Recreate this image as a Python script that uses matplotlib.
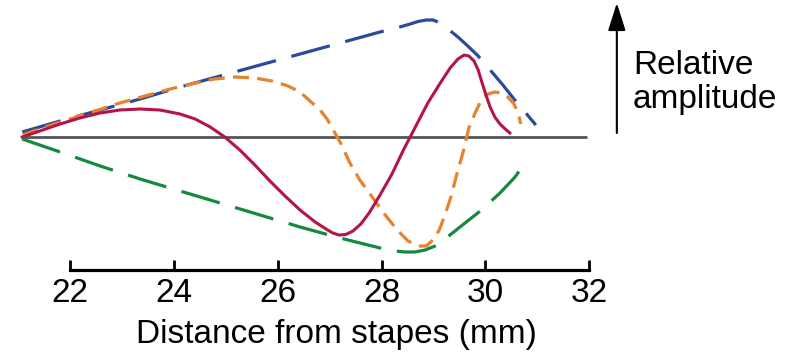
"""
Travelling wave along the basilar membrane: envelope and two instants of the wave
"""

import matplotlib.pyplot as plt

plt.rcParams['font.family'] = ['Liberation Sans', 'DejaVu Sans']

#%% DATA
# distance from stapes (mm) and relative amplitude

env_top_x = [21.08, 21.81, 22.58, 23.35, 24.12, 24.89, 25.66, 26.43, 27.20, 27.97,
             28.35, 28.55, 28.70, 28.86, 28.99, 29.13, 29.28, 29.47, 29.66, 29.86,
             30.09, 30.32, 30.55, 30.76, 30.97]
env_top_y = [0.05, 0.16, 0.27, 0.38, 0.50, 0.61, 0.72, 0.83, 0.94, 1.05,
             1.10, 1.13, 1.155, 1.17, 1.17, 1.14, 1.08, 1.00, 0.91, 0.81,
             0.67, 0.53, 0.38, 0.25, 0.12]

env_bot_x = [21.08, 21.81, 22.58, 23.35, 24.12, 24.89, 25.66, 26.43, 27.20, 27.97,
             28.26, 28.45, 28.64, 28.84, 29.03, 29.22, 29.51, 29.90, 30.28, 30.57,
             30.80]
env_bot_y = [-0.02, -0.15, -0.29, -0.42, -0.54, -0.66, -0.78, -0.90, -1.01, -1.11,
             -1.14, -1.15, -1.15, -1.13, -1.09, -1.02, -0.90, -0.74, -0.56, -0.40,
             -0.23]

wave1_x = [21.08, 21.42, 21.81, 22.19, 22.58, 22.96, 23.35, 23.73, 24.12, 24.41,
           24.70, 24.98, 25.27, 25.56, 25.85, 26.14, 26.43, 26.72, 26.93, 27.06,
           27.18, 27.31, 27.45, 27.60, 27.76, 27.97, 28.20, 28.43, 28.66, 28.89,
           29.13, 29.32, 29.47, 29.59, 29.68, 29.78, 29.86, 29.93, 30.01, 30.09,
           30.18, 30.28, 30.38, 30.47]
wave1_y = [0.00, 0.06, 0.13, 0.19, 0.24, 0.27, 0.28, 0.27, 0.23, 0.18,
           0.10, 0.00, -0.13, -0.28, -0.44, -0.59, -0.73, -0.85, -0.92, -0.96,
           -0.98, -0.975, -0.94, -0.87, -0.76, -0.58, -0.37, -0.12, 0.11, 0.34,
           0.54, 0.69, 0.78, 0.82, 0.81, 0.76, 0.67, 0.55, 0.42, 0.30,
           0.20, 0.13, 0.08, 0.04]

wave2_x = [21.09, 21.52, 22.00, 22.48, 22.96, 23.44, 23.93, 24.41, 24.79, 25.18,
           25.56, 25.89, 26.20, 26.43, 26.62, 26.80, 26.95, 27.08, 27.22, 27.39,
           27.58, 27.82, 28.07, 28.30, 28.51, 28.70, 28.86, 28.99, 29.11, 29.22,
           29.34, 29.45, 29.57, 29.68, 29.80, 29.91, 30.05, 30.18, 30.32, 30.43,
           30.55, 30.63, 30.68]
wave2_y = [0.02, 0.10, 0.18, 0.26, 0.34, 0.41, 0.48, 0.54, 0.58, 0.60,
           0.59, 0.56, 0.51, 0.45, 0.36, 0.28, 0.18, 0.06, -0.07, -0.26,
           -0.43, -0.60, -0.78, -0.93, -1.04, -1.09, -1.09, -1.03, -0.93, -0.78,
           -0.59, -0.37, -0.15, 0.09, 0.24, 0.36, 0.43, 0.45, 0.44, 0.40,
           0.33, 0.24, 0.13]

base_x = [21.08, 31.96]
base_y = [0.0, 0.0]

xticks = [22, 24, 26, 28, 30, 32]

#%% GRAPH
fig = plt.figure(figsize=(7.96, 3.6), dpi=100)
ax = fig.add_axes([0, 0, 1, 1])
ax.set_xlim(20.652, 35.98)
ax.set_ylim(-2.23, 1.37)

ax.plot(base_x, base_y, color='#555555', lw=2.0, solid_capstyle='butt')
ax.plot(env_bot_x, env_bot_y, color='#15893f', lw=2.3, dashes=(12.5, 5))
ax.plot(env_top_x, env_top_y, color='#2b4a9b', lw=2.3, dashes=(12.5, 5))
ax.plot(wave2_x, wave2_y, color='#e8822c', lw=2.3, dashes=(5, 2.6))
ax.plot(wave1_x, wave1_y, color='#b3154b', lw=2.2, solid_joinstyle='round')

# distance axis
for s in ['top', 'left', 'right']:
    ax.spines[s].set_visible(False)
ax.spines['bottom'].set_position(('data', -1.33))
ax.spines['bottom'].set_bounds(22, 32)
ax.spines['bottom'].set_linewidth(2.3)
ax.set_xticks(xticks)
ax.set_yticks([])
ax.tick_params(axis='x', direction='in', length=7, width=2.0, pad=6, labelsize=24)
ax.set_xlabel('Distance from stapes (mm)', fontsize=24)
ax.xaxis.set_label_coords(336 / 796, 41 / 360)

# amplitude arrow
ax.annotate('', xy=(32.53, 1.34), xytext=(32.53, 0.04),
            arrowprops=dict(arrowstyle='-|>,head_length=0.85,head_width=0.27',
                            mutation_scale=20, lw=1.5, color='black',
                            shrinkA=0, shrinkB=0))
ax.text(32.84, 0.63, 'Relative', fontsize=24, va='baseline', ha='left')
ax.text(32.84, 0.29, 'amplitude', fontsize=24, va='baseline', ha='left')

fig.savefig('out.png', dpi=100)
